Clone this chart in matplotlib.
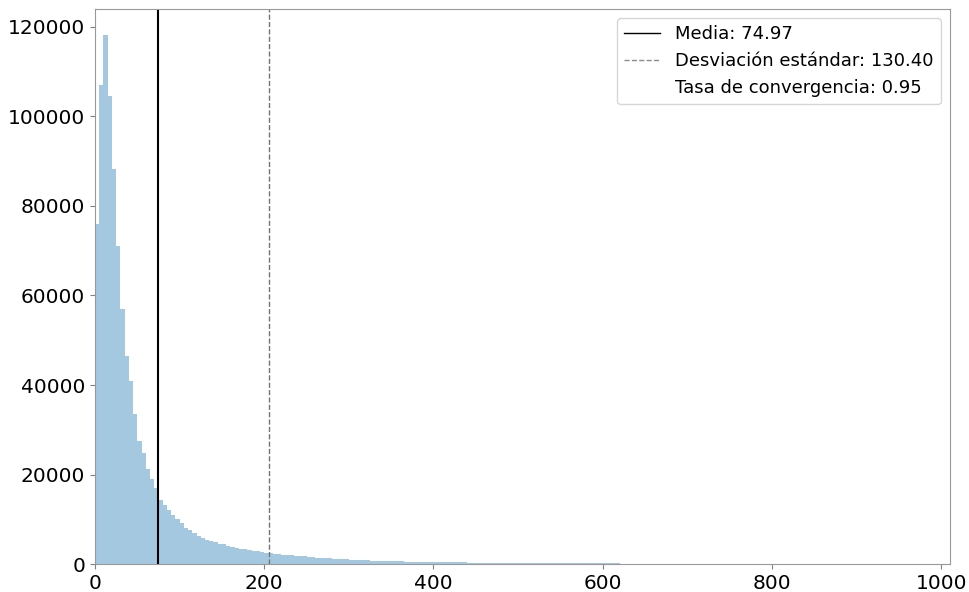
"""
Histograma de tiempos de convergencia
"""

import numpy as np
import matplotlib
matplotlib.use('Agg')
import matplotlib.pyplot as plt
from matplotlib.lines import Line2D

# bins de ancho 5 entre 0 y 1000
bin_edges = np.arange(0, 1005, 5)

# conteos (uno por bin)
counts = [
    75900, 107100, 118100, 104500, 88300, 71000, 56900, 46600, 40800, 33600,
    27600, 24800, 21300, 19100, 17000, 14400, 13200, 12000, 10900, 10000,
    9100, 8100, 7600, 6900, 6300, 5800, 5500, 5200, 4900, 4600,
    4400, 4100, 3900, 3700, 3500, 3300, 3100, 3000, 2850, 2700,
    2500, 2400, 2300, 2200, 2120, 2030, 1950, 1870, 1790, 1720,
    1600, 1530, 1470, 1400, 1340, 1280, 1220, 1170, 1120, 1070,
    1000, 960, 920, 880, 850, 810, 780, 750, 720, 690,
    665, 640, 615, 595, 575, 555, 535, 515, 500, 485,
    470, 455, 440, 425, 415, 400, 390, 380, 370, 360,
    350, 340, 330, 322, 314, 306, 298, 290, 283, 276,
    270, 263, 257, 251, 245, 239, 234, 229, 224, 219,
    214, 208, 203, 198, 193, 188, 183, 178, 174, 170,
    165, 160, 156, 152, 148, 144, 140, 136, 132, 128,
    124, 120, 117, 114, 111, 108, 105, 102, 99, 96,
    93, 90, 87, 84, 81, 78, 75, 72, 69, 66,
    63, 60, 58, 56, 54, 52, 50, 48, 46, 44,
    42, 40, 39, 38, 37, 36, 35, 34, 33, 32,
    31, 30, 29, 28, 27, 26, 25, 24, 23, 22,
    22, 21, 21, 20, 20, 19, 19, 18, 18, 17,
    17, 16, 16, 15, 15, 14, 14, 13, 13, 12,
]

media = 74.97
desviacion = 130.40
tasa = 0.95

fig = plt.figure(figsize=(9.69, 5.92), dpi=100)
ax = fig.add_axes([0.098, 0.047, 0.882, 0.938])

ax.hist(bin_edges[:-1], bins=bin_edges, weights=counts,
        color='#1f77b4', alpha=0.4, linewidth=0)

ax.axvline(media, color='black', lw=1.5)
ax.axvline(media + desviacion, color='0.45', lw=1, ls='--')

ax.set_xlim(0, 1010)
ax.set_ylim(0, max(counts) * 1.05)
ax.set_xticks([0, 200, 400, 600, 800, 1000])
ax.set_yticks(range(0, 120001, 20000))
ax.tick_params(labelsize=14.5, color='0.5', length=3.5)
for s in ax.spines.values():
    s.set_color('0.6')

handles = [
    Line2D([], [], color='black', lw=1),
    Line2D([], [], color='0.55', lw=1, ls='--'),
    Line2D([], [], color='none'),
]
labels = ['Media: %.2f' % media,
          'Desviación estándar: %.2f' % desviacion,
          'Tasa de convergencia: %.2f' % tasa]
ax.legend(handles, labels, loc='upper right', fontsize=13)

fig.savefig('out.png')
